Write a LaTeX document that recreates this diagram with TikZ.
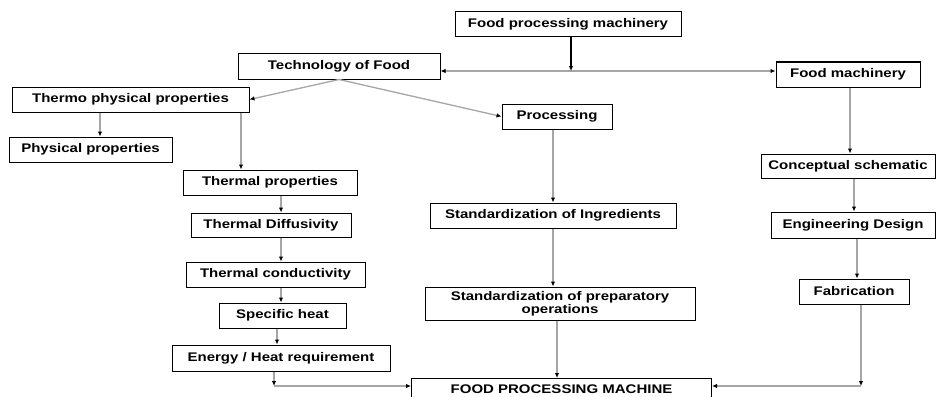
\documentclass[tikz,border=0pt]{standalone}
\usepackage{fontspec}
\setmainfont{Liberation Sans}[FakeStretch=1.2]
\usetikzlibrary{arrows.meta}
\tikzset{
  box/.style={draw=black, line width=1pt, inner sep=0pt, font=\fontsize{12.5}{13}\selectfont\bfseries, align=center},
  arr/.style={draw=black!35, line width=1.3pt, -{Latex[length=5pt,width=4.5pt,color=black]}},
  darr/.style={draw=black, line width=1.1pt, -{Latex[length=5pt,width=4.5pt]}},
}
\begin{document}
\begin{tikzpicture}[x=1pt,y=-1pt]
\useasboundingbox (0,0) rectangle (936,396);
\clip (0,0) rectangle (936,396);
% boxes
\node[box, minimum width=226pt, minimum height=25pt] (fpm) at (568,24.5) {Food processing machinery};
\node[box, minimum width=202pt, minimum height=25pt] (tof) at (339,66.5) {Technology of Food};
\node[box, minimum width=144pt, minimum height=25pt] (fm) at (848,74.5) {Food machinery};
\node[box, minimum width=237pt, minimum height=25pt] (tpp) at (130.5,99.5) {Thermo physical properties};
\node[box, minimum width=163pt, minimum height=25pt] (pp) at (90.5,149.5) {Physical properties};
\node[box, minimum width=110pt, minimum height=25pt] (proc) at (557,116.5) {Processing};
\node[box, minimum width=174pt, minimum height=25pt] (thp) at (270,182.5) {Thermal properties};
\node[box, minimum width=174pt, minimum height=24pt] (cs) at (848,166) {Conceptual schematic};
\node[box, minimum width=160pt, minimum height=24pt] (td) at (271,225) {Thermal Diffusivity};
\node[box, minimum width=246pt, minimum height=25pt] (si) at (553,215.5) {Standardization of Ingredients};
\node[box, minimum width=164pt, minimum height=26pt] (ed) at (853,225) {Engineering Design};
\node[box, minimum width=179pt, minimum height=25pt] (tc) at (275.5,274.5) {Thermal conductivity};
\node[box, minimum width=270pt, minimum height=33pt] (spo) at (560,303.5) {Standardization of preparatory\\operations};
\node[box, minimum width=110pt, minimum height=25pt] (fab) at (854,291.5) {Fabrication};
\node[box, minimum width=127pt, minimum height=25pt] (sh) at (282.5,315.5) {Specific heat};
\node[box, minimum width=218pt, minimum height=26pt] (ehr) at (281,358) {Energy / Heat requirement};
\node[box, minimum width=300pt, minimum height=30pt, anchor=north] (fpmach) at (561.5,378) {};
\node[font=\fontsize{12.5}{13}\selectfont\bfseries, inner sep=0pt] (fpmtext) at (561.5,389) {FOOD PROCESSING MACHINE};
% column helper coordinates
\coordinate (hl) at (571,71);
\coordinate (cl) at (274,386);
\coordinate (cr) at (861,386);
\coordinate (x100) at (100,0);
\coordinate (x241) at (241,0);
\coordinate (x281) at (281,0);
\coordinate (x277) at (277,0);
\coordinate (x553) at (553,0);
\coordinate (x557) at (557,0);
\coordinate (x850) at (850,0);
\coordinate (x854) at (854,0);
\coordinate (x857) at (857,0);
% connectors
\draw[arr] (hl) -- (tof.east |- hl);
\draw[arr] (hl) -- (fm.west |- hl);
\draw[darr] (fpm.south -| hl) -- (hl);
\draw[arr] (tof.south) -- (tpp.east);
\draw[arr] (tof.south) -- (proc.west);
\draw[arr] (tpp.south -| x100) -- (pp.north -| x100);
\draw[arr] (tpp.south -| x241) -- (thp.north -| x241);
\draw[arr] (thp.south -| x281) -- (td.north -| x281);
\draw[arr] (td.south -| x281) -- (tc.north -| x281);
\draw[arr] (tc.south -| x281) -- (sh.north -| x281);
\draw[arr] (sh.south -| x277) -- (ehr.north -| x277);
\draw[arr] (ehr.south -| cl) -- (cl);
\draw[arr] (cl) -- (fpmach.west |- cl);
\draw[arr] (proc.south -| x553) -- (si.north -| x553);
\draw[arr] (si.south -| x553) -- (spo.north -| x553);
\draw[arr] (spo.south -| x557) -- (fpmach.north -| x557);
\draw[arr] (fm.south -| x850) -- (cs.north -| x850);
\draw[arr] (cs.south -| x854) -- (ed.north -| x854);
\draw[arr] (ed.south -| x857) -- (fab.north -| x857);
\draw[arr] (fab.south -| cr) -- (cr);
\draw[arr] (cr) -- (fpmach.east |- cr);
\end{tikzpicture}
\end{document}
